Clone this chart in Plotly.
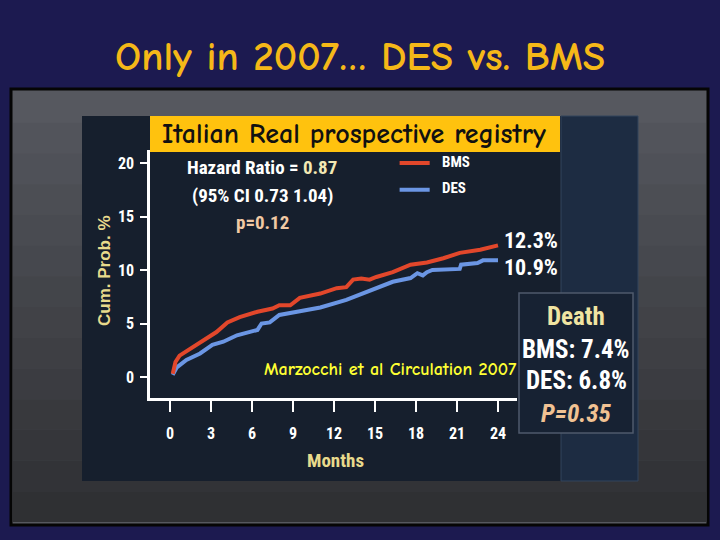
import plotly.graph_objects as go

# Kaplan-Meier style cumulative probability curves
bms_months = [0.2, 0.4, 0.7, 1.7, 2.7, 3.4, 4.2, 5.1, 6.4, 7.5, 8.0, 8.8, 9.5, 11.0, 12.2, 12.9,
              13.4, 14.0, 14.6, 15.1, 16.3, 17.6, 18.8, 20.0, 21.2, 21.9, 22.7, 24.0]
bms_vals = [0.3, 1.4, 2.0, 2.8, 3.6, 4.2, 5.1, 5.6, 6.1, 6.4, 6.7, 6.7, 7.4, 7.8, 8.3, 8.4,
            9.1, 9.2, 9.1, 9.35, 9.8, 10.5, 10.7, 11.1, 11.6, 11.7, 11.9, 12.3]

des_months = [0.2, 0.5, 1.2, 2.2, 3.1, 3.9, 4.4, 4.9, 6.4, 6.7, 7.3, 8.0, 9.3, 11.0, 12.9, 14.1,
              15.1, 16.3, 17.6, 18.1, 18.5, 18.8, 19.2, 21.2, 21.3, 22.5, 22.9, 24.0]
des_vals = [0.2, 0.9, 1.6, 2.2, 3.0, 3.3, 3.6, 3.9, 4.4, 5.0, 5.1, 5.8, 6.1, 6.5, 7.2, 7.8,
            8.4, 8.9, 9.25, 9.7, 9.5, 9.8, 10.0, 10.1, 10.5, 10.65, 10.9, 10.9]

x_ticks = [0, 3, 6, 9, 12, 15, 18, 21, 24]
y_ticks = [0, 5, 10, 15, 20]

RED = '#e2472b'
BLUE = '#6b96e4'
NARROW = 'Roboto Condensed, Open Sans Condensed, DejaVu Sans Condensed, sans-serif'
ARIAL = 'Liberation Sans, Arial, sans-serif'
COMIC = 'Comic Neue, Comic Sans MS, DejaVu Sans, sans-serif'


def px(x):
    return x / 720


def py(y):
    return 1 - y / 540


fig = go.Figure()

fig.add_trace(go.Scatter(x=des_months, y=des_vals, mode='lines', name='DES',
                         line=dict(color=BLUE, width=4)))
fig.add_trace(go.Scatter(x=bms_months, y=bms_vals, mode='lines', name='BMS',
                         line=dict(color=RED, width=4)))

# legend lines (drawn in data space like the original figure)
fig.add_trace(go.Scatter(x=[16.8, 19.0], y=[20.0, 20.0], mode='lines',
                         line=dict(color=RED, width=4), hoverinfo='skip'))
fig.add_trace(go.Scatter(x=[16.8, 19.0], y=[17.5, 17.5], mode='lines',
                         line=dict(color=BLUE, width=4), hoverinfo='skip'))

shapes = [
    # gray board with black border
    dict(type='rect', xref='paper', yref='paper', x0=px(11), x1=px(708), y0=py(525), y1=py(89),
         fillcolor='#56585f', line=dict(color='#050505', width=3), layer='below'),
]
# darken the board towards the bottom (rough vignette)
n_bands = 14
top, bot = 92, 522
for i in range(n_bands):
    y_a = top + (bot - top) * i / n_bands
    y_b = top + (bot - top) * (i + 1) / n_bands
    shapes.append(dict(type='rect', xref='paper', yref='paper', x0=px(13), x1=px(706),
                       y0=py(y_b), y1=py(y_a), fillcolor='black', opacity=0.035 * i,
                       line=dict(width=0), layer='below'))
shapes += [
    # dark chart panel
    dict(type='rect', xref='paper', yref='paper', x0=px(82), x1=px(638), y0=py(481), y1=py(116),
         fillcolor='#161f2d', line=dict(width=0), layer='below'),
    dict(type='rect', xref='paper', yref='paper', x0=px(561), x1=px(638), y0=py(481), y1=py(116),
         fillcolor='#1d2c42', line=dict(color='#33445c', width=1), layer='below'),
    # yellow banner
    dict(type='rect', xref='paper', yref='paper', x0=px(150), x1=px(560), y0=py(152), y1=py(116),
         fillcolor='#ffc20e', line=dict(width=0), layer='above'),
    # death box
    dict(type='rect', xref='paper', yref='paper', x0=px(519), x1=px(633), y0=py(433), y1=py(293),
         fillcolor='#172233', line=dict(color='#4f5a6c', width=1.5), layer='above'),
]


def ann(text, x, y, size, color, family=NARROW, weight='bold', style='normal',
        xanchor='center', textangle=0):
    return dict(text=text, x=px(x), y=py(y), xref='paper', yref='paper', showarrow=False,
                xanchor=xanchor, yanchor='middle', textangle=textangle,
                font=dict(size=size, color=color, family=family, weight=weight, style=style))


annotations = [
    ann('Only in 2007\u2026 DES vs. BMS', 360, 57, 41, '#f5b818', family=COMIC),
    ann('Italian Real prospective registry', 354, 134, 28, '#111111', family=COMIC),
    ann('Hazard Ratio = <span style="color:#f2e8b4">0.87</span>', 262, 167, 19, 'white'),
    ann('(95% CI 0.73 1.04)', 262, 195, 19, 'white'),
    ann('p=0.12', 262, 222, 19, '#f1c9a4'),
    ann('BMS', 440, 162, 15, 'white', xanchor='left'),
    ann('DES', 440, 188, 15, 'white', xanchor='left'),
    ann('12.3%', 502, 240, 22, 'white', xanchor='left'),
    ann('10.9%', 502, 267, 22, 'white', xanchor='left'),
    ann('Marzocchi et al Circulation 2007', 390, 369, 18, '#ffff33', family=COMIC),
    ann('Death', 576, 316, 25, '#f0e4a2'),
    ann('BMS: 7.4%', 576, 349, 25, 'white'),
    ann('DES: 6.8%', 576, 380, 25, 'white'),
    ann('P=0.35', 576, 413, 25, '#f1c293', style='italic'),
    ann('Cum. Prob. %', 104, 270, 17, '#e8da8c', family=ARIAL, textangle=-90),
    ann('Months', 335, 460, 19, '#e8da8c'),
]

x0_px, m_px = 170, (498 - 170) / 24
y0_px, u_px = 377, (377 - 163) / 20

fig.update_layout(
    width=720, height=540,
    margin=dict(l=0, r=0, t=0, b=0),
    paper_bgcolor='#1c1a50',
    plot_bgcolor='rgba(0,0,0,0)',
    showlegend=False,
    shapes=shapes,
    annotations=annotations,
    xaxis=dict(domain=[px(150), px(517)],
               range=[(150 - x0_px) / m_px, (517 - x0_px) / m_px],
               tickvals=x_ticks, showgrid=False, zeroline=False,
               showline=True, linecolor='white', linewidth=2.5,
               ticks='outside', ticklen=11, tickwidth=2, tickcolor='white',
               ticklabelstandoff=8,
               tickfont=dict(size=16, color='white', family=NARROW, weight='bold')),
    yaxis=dict(domain=[py(398), py(150)],
               range=[(y0_px - 398) / u_px, (y0_px - 150) / u_px],
               tickvals=y_ticks, showgrid=False, zeroline=False,
               showline=True, linecolor='white', linewidth=2.5,
               ticks='outside', ticklen=7, tickwidth=2, tickcolor='white',
               ticklabelstandoff=3,
               tickfont=dict(size=16, color='white', family=NARROW, weight='bold')),
)

fig.write_html("out.html", config={'displayModeBar': False},
               post_script="document.body.style.margin='0';")
